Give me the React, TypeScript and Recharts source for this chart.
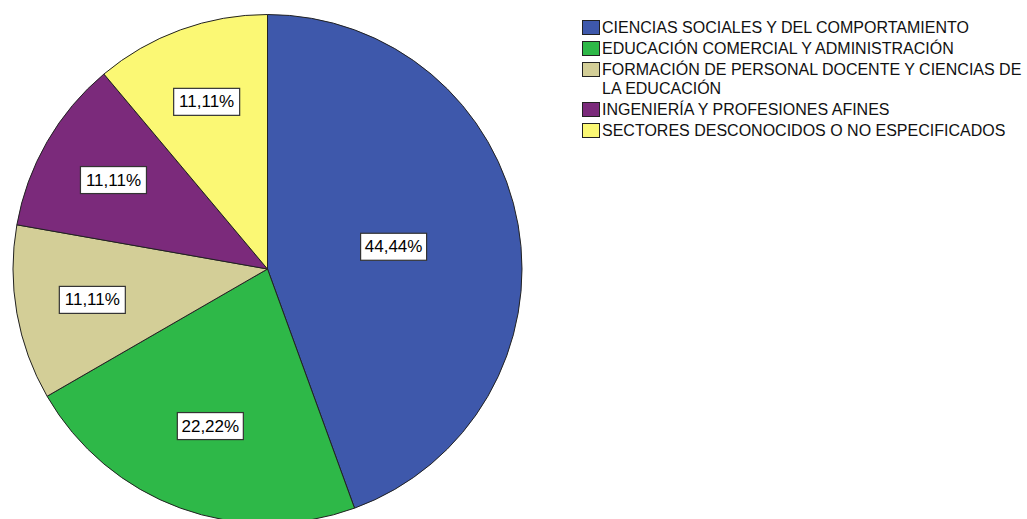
import { PieChart, Pie, Cell, Legend } from 'recharts';

// categories and counts (4/2/1/1/1 of 9)
const categories = [
  'CIENCIAS SOCIALES Y DEL COMPORTAMIENTO',
  'EDUCACIÓN COMERCIAL Y ADMINISTRACIÓN',
  'FORMACIÓN DE PERSONAL DOCENTE Y CIENCIAS DE LA EDUCACIÓN',
  'INGENIERÍA Y PROFESIONES AFINES',
  'SECTORES DESCONOCIDOS O NO ESPECIFICADOS',
];
const counts = [4, 2, 1, 1, 1];
const COLORS = ['#3E58AB', '#2EB848', '#D3CE97', '#7B2A7B', '#FBF874'];

const data = categories.map((name, i) => ({ name, value: counts[i] }));

const RAD = Math.PI / 180;

// SPSS puts the box near the centroid of the slice
const renderLabel = (props: any) => {
  const { cx, cy, midAngle, outerRadius, percent } = props;
  const half = percent * Math.PI;
  const dist = ((2 * outerRadius * Math.sin(half)) / (3 * half)) * 1.07;
  const x = cx + dist * Math.cos(-midAngle * RAD);
  const y = cy + dist * Math.sin(-midAngle * RAD);
  const txt = (percent * 100).toFixed(2).replace('.', ',') + '%';
  return (
    <g>
      <rect x={x - 33} y={y - 13.5} width={66} height={27} fill="#fff" stroke="#333" strokeWidth={1.2} />
      <text x={x} y={y + 1} textAnchor="middle" dominantBaseline="middle" fontSize={17} fill="#000"
        fontFamily="'Liberation Sans', Arial, sans-serif">
        {txt}
      </text>
    </g>
  );
};

const renderLegend = () => (
  <div style={{ fontFamily: "'Liberation Sans', Arial, sans-serif", fontSize: 16, color: '#111' }}>
    {data.map((d, i) => (
      <div key={d.name} style={{ display: 'flex', alignItems: 'flex-start', marginBottom: 2 }}>
        <span style={{
          display: 'inline-block', width: 16, height: 13, background: COLORS[i],
          border: '1.5px solid #222', marginTop: 2, marginRight: 2, flexShrink: 0,
        }} />
        <span style={{ lineHeight: '19px', width: 424 }}>{d.name}</span>
      </div>
    ))}
  </div>
);

export default function App() {
  return (
    <div style={{ position: 'fixed', left: 0, top: 0, background: '#fff' }}>
      <PieChart width={1027} height={519} margin={{ top: 0, right: 0, bottom: 0, left: 0 }}>
        <Pie
          data={data}
          dataKey="value"
          nameKey="name"
          cx={267.5}
          cy={269}
          outerRadius={254.5}
          startAngle={90}
          endAngle={-270}
          stroke="#222"
          strokeWidth={1}
          label={renderLabel}
          labelLine={false}
          isAnimationActive={false}
        >
          {data.map((d, i) => (
            <Cell key={`cell-${i}`} fill={COLORS[i]} />
          ))}
        </Pie>
        <Legend
          layout="vertical"
          verticalAlign="top"
          align="right"
          content={renderLegend}
          wrapperStyle={{ left: 582, top: 18, right: 'auto', width: 445 }}
        />
      </PieChart>
    </div>
  );
}
